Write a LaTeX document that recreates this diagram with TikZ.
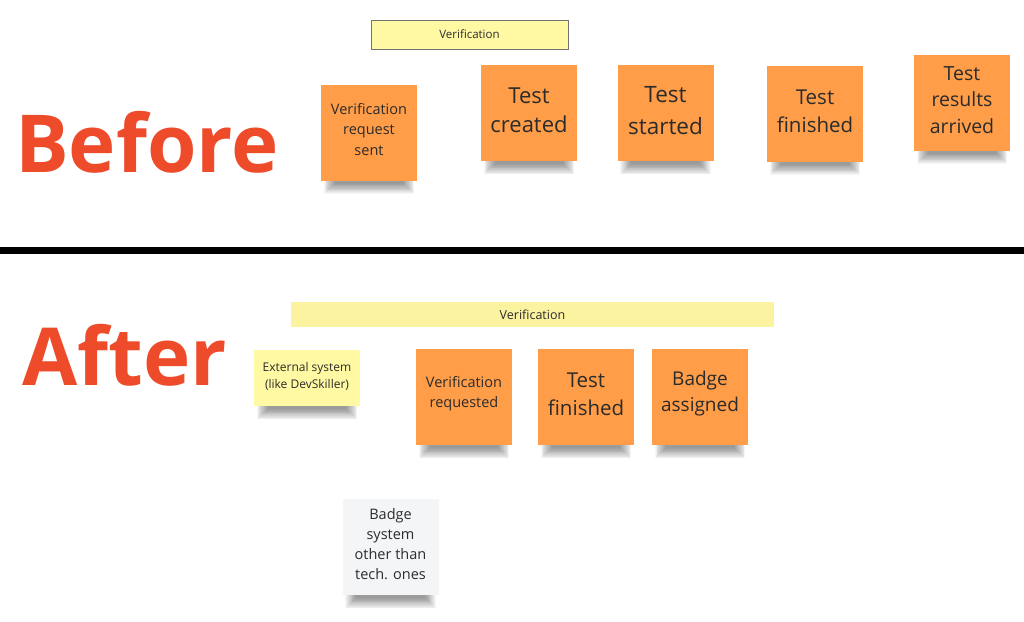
\documentclass[tikz,border=0pt]{standalone}
\usepackage{fontspec}
\setmainfont{Open Sans}
\pgfdeclarelayer{bg}
\pgfsetlayers{bg,main}
\definecolor{orng}{HTML}{FF9D48}
\definecolor{ylw}{HTML}{FFF9A3}
\definecolor{ylwbar}{HTML}{FBF3A0}
\definecolor{gry}{HTML}{F4F5F7}
\definecolor{txt}{HTML}{2B2B2B}
\definecolor{red}{HTML}{EE4B2B}
\tikzset{
  note/.style={minimum width=96pt, minimum height=96pt, inner sep=0pt},
  onote/.style={note, fill=orng},
  ntext/.style={align=center, text=txt, inner sep=0pt},
  shadowpiece/.style={fill=black, opacity=0.036},
  bar/.style={text=txt, font=\fontsize{11.5}{13}\selectfont},
  big/.style={text=red, font=\bfseries\fontsize{80}{80}\selectfont, inner sep=0pt, anchor=base west},
}
\begin{document}
\begin{tikzpicture}[x=1pt,y=-1pt]
\useasboundingbox (0,0) rectangle (1024,621);
% headings
\node[big] (before) at (15,172) {Before};
\node[big] (after) at (22,385) {After};
% divider
\fill[black] (0,247) rectangle (1024,254);
% before
\node[bar, fill=ylw, draw=black!55, line width=0.6pt, minimum width=197pt, minimum height=29pt] (v1) at (469.5,34.5) {Verification};
\node[onote] (vrs) at (369,132.5) {};
\node[ntext, font=\fontsize{14.5}{20.5}\selectfont] (vrst) at ([yshift=3pt]vrs.center) {Verification\\request\\sent};
\node[onote] (tc) at (529,113) {};
\node[ntext, font=\fontsize{22}{29.5}\selectfont] (tct) at ([yshift=2.5pt]tc.center) {Test\\created};
\node[onote] (ts) at (665.5,113) {};
\node[ntext, font=\fontsize{22.5}{31.5}\selectfont] (tst) at ([yshift=2.5pt]ts.center) {Test\\started};
\node[onote] (tf) at (815,113.5) {};
\node[ntext, font=\fontsize{20.5}{28}\selectfont] (tft) at ([yshift=2.5pt]tf.center) {Test\\finished};
\node[onote] (tra) at (962,102.5) {};
\node[ntext, font=\fontsize{19.5}{26.5}\selectfont] (trat) at ([yshift=2.5pt]tra.center) {Test\\results\\arrived};
% after
\node[bar, fill=ylwbar, minimum width=483pt, minimum height=25pt, font=\fontsize{12.5}{14}\selectfont] (v2) at (532.5,314.5) {Verification};
\node[note, fill=ylw, minimum width=106pt, minimum height=56pt] (ext) at (307,378) {};
\node[ntext, font=\fontsize{12}{17}\selectfont] (extt) at ([yshift=2pt]ext.center) {External system\\(like DevSkiller)};
\node[onote] (vr) at (464,397) {};
\node[ntext, font=\fontsize{14.5}{20}\selectfont] (vrt) at ([yshift=3pt]vr.center) {Verification\\requested};
\node[onote] (tf2) at (586,397) {};
\node[ntext, font=\fontsize{20.5}{28}\selectfont] (tf2t) at ([yshift=3pt]tf2.center) {Test\\finished};
\node[onote] (ba) at (700,397) {};
\node[ntext, font=\fontsize{19}{26}\selectfont] (bat) at ([yshift=3pt]ba.center) {Badge\\assigned};
\node[note, fill=gry] (bs) at (390.5,547) {};
\node[ntext, font=\fontsize{14.5}{20}\selectfont] (bst) at ([yshift=3pt]bs.center) {Badge\\system\\other than\\tech. ones};
% soft shadows under the notes
\begin{pgfonlayer}{bg}
\fill[white] (0,0) rectangle (1024,621);
\foreach \n in {vrs,tc,ts,tf,tra,ext,vr,tf2,ba,bs}{
  \foreach \i in {1,...,13}{
    \fill[shadowpiece] ([xshift={(2+0.9*\i)*1pt}, yshift=2pt]\n.south west) rectangle ([xshift={-(2+0.9*\i)*1pt}, yshift={-(14-0.85*\i)*1pt}]\n.south east);
  }
}
\end{pgfonlayer}
\end{tikzpicture}
\end{document}
